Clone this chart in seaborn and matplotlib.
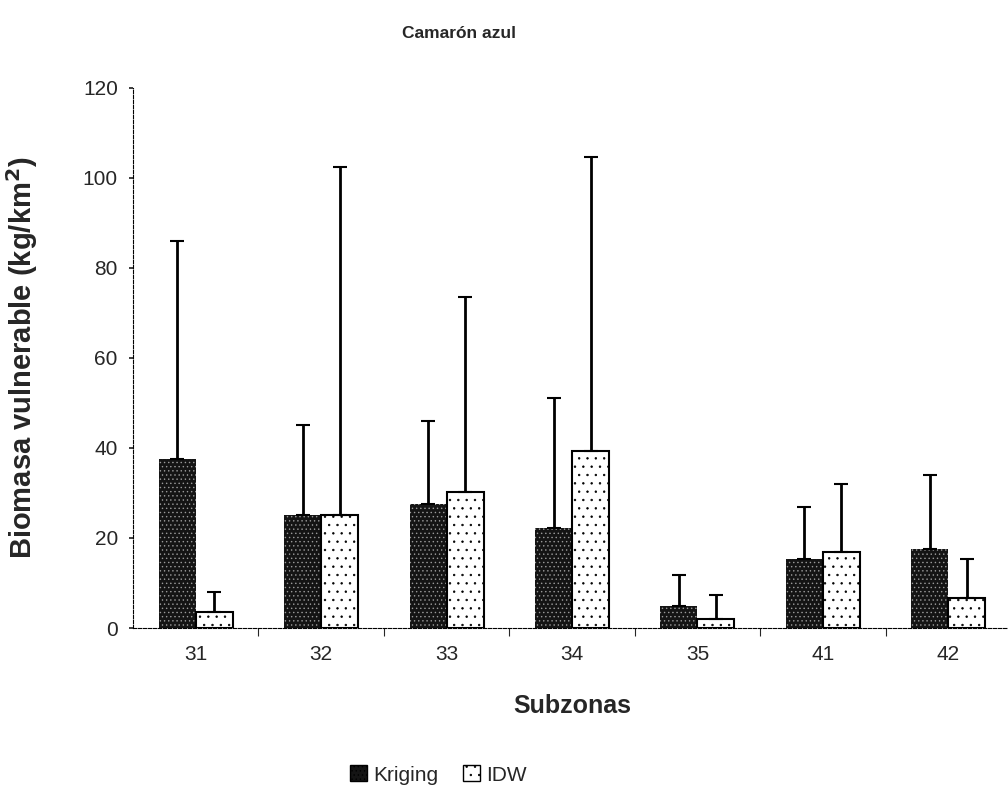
import matplotlib
matplotlib.use("Agg")
import matplotlib.pyplot as plt
from matplotlib.patches import Patch
from matplotlib.ticker import FixedLocator
import numpy as np
import pandas as pd
import seaborn as sns

# Mean vulnerable biomass per subzone and the upper end of each error bar
subzonas = ["31", "32", "33", "34", "35", "41", "42"]
kriging = [37.5, 25.0, 27.5, 22.2, 5.0, 15.3, 17.6]
kriging_sup = [86.0, 45.0, 46.0, 51.0, 11.8, 26.9, 34.0]
idw = [3.5, 25.0, 30.2, 39.3, 2.0, 16.9, 6.7]
idw_sup = [8.0, 102.4, 73.5, 104.7, 7.3, 32.0, 15.3]
metodos = ["Kriging", "IDW"]

df = pd.DataFrame({
    "Subzona": subzonas * 2,
    "Biomasa": kriging + idw,
    "Método": [metodos[0]] * len(subzonas) + [metodos[1]] * len(subzonas),
})

sns.set_theme(style="white")
plt.rcParams["font.family"] = ["Liberation Sans", "DejaVu Sans"]
plt.rcParams["hatch.linewidth"] = 0.5

fig = plt.figure(figsize=(10.08, 7.99), dpi=100)
ax = fig.add_axes([0.132, 0.214, 0.871, 0.676])

sns.barplot(data=df, x="Subzona", y="Biomasa", hue="Método", order=subzonas,
            hue_order=metodos, width=0.59, errorbar=None, ax=ax, legend=False)

styles = {
    "Kriging": dict(facecolor="#141414", edgecolor="#9a9a9a", hatch="....", linewidth=0),
    "IDW": dict(facecolor="white", edgecolor="black", hatch="..", linewidth=1.5),
}
tops = {"Kriging": kriging_sup, "IDW": idw_sup}
vals = {"Kriging": kriging, "IDW": idw}
for cont, name in zip(ax.containers, metodos):
    xs = []
    for p in cont.patches:
        p.set_facecolor(styles[name]["facecolor"])
        p.set_edgecolor(styles[name]["edgecolor"])
        p.set_hatch(styles[name]["hatch"])
        p.set_linewidth(styles[name]["linewidth"])
        xs.append(p.get_x() + p.get_width() / 2)
    v = np.array(vals[name])
    up = np.array(tops[name]) - v
    ax.errorbar(xs, v, yerr=[np.zeros_like(up), up], fmt="none", ecolor="black",
                elinewidth=2.0, capsize=5, capthick=1.5, zorder=1)

ax.set_ylim(0, 120)
ax.set_xlim(-0.5, 6.5)
ax.set_yticks(range(0, 121, 20))
ax.tick_params(axis="y", labelsize=15, length=3, direction="out", left=True, pad=8)
ax.tick_params(axis="x", which="major", labelsize=15, length=0, pad=12)
ax.xaxis.set_minor_locator(FixedLocator(np.arange(0.5, 6.0, 1.0)))
ax.tick_params(axis="x", which="minor", length=6, width=0.8, direction="out", bottom=True)

for side in ("top", "right"):
    ax.spines[side].set_visible(False)
for side in ("left", "bottom"):
    ax.spines[side].set_linestyle((0, (3, 1.5)))
    ax.spines[side].set_linewidth(0.8)
    ax.spines[side].set_color("black")

ax.set_ylabel("Biomasa vulnerable (kg/km$^\\mathbf{2}$)", fontsize=21, fontweight="bold", labelpad=31)
ax.set_xlabel("Subzonas", fontsize=18, fontweight="bold", labelpad=22)
fig.text(0.455, 0.958, "Camarón azul", ha="center", va="center", fontsize=12.5, fontweight="bold")

handles = [Patch(facecolor=styles[m]["facecolor"], edgecolor=styles[m]["edgecolor"] if m == "IDW" else "black",
                 hatch=styles[m]["hatch"], linewidth=1.0) for m in metodos]
fig.legend(handles, metodos, loc="center", bbox_to_anchor=(0.435, 0.03), ncol=2,
           frameon=False, fontsize=15, handlelength=0.8, handleheight=0.8,
           handletextpad=0.3, columnspacing=1.2)

fig.savefig("out.png", dpi=100)
